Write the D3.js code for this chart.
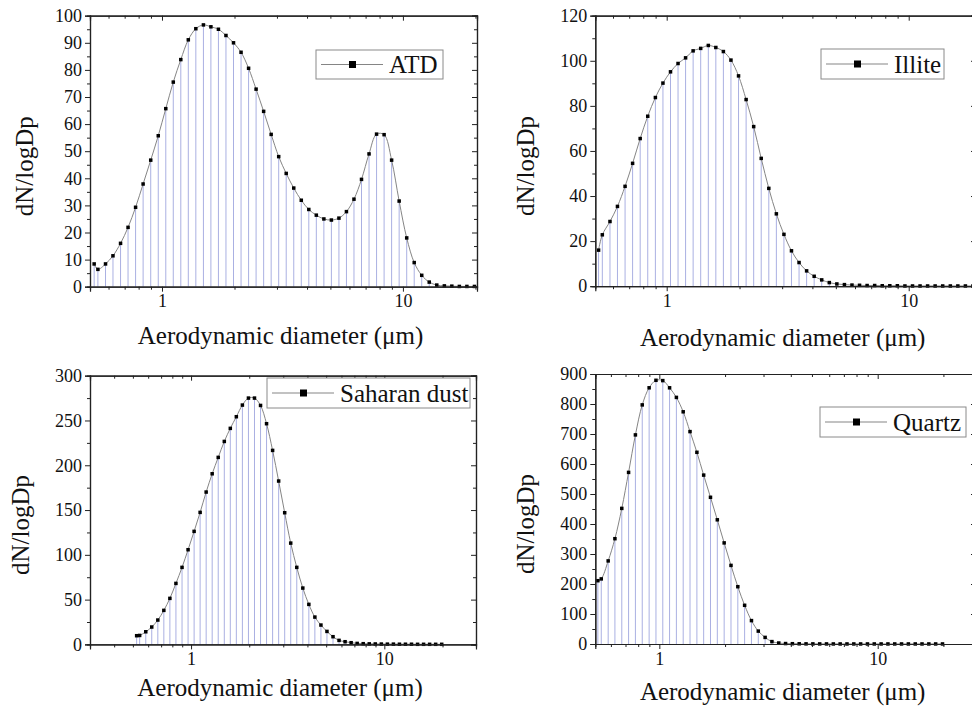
<!DOCTYPE html>
<html>
<head>
<meta charset="utf-8">
<script src="https://cdn.jsdelivr.net/npm/d3@7"></script>
<style>
  body { margin: 0; background: #fff; }
  svg text { font-family: "Liberation Serif", "Times New Roman", serif; fill: #111; }
</style>
</head>
<body>
<script>
"use strict";
(function(){
  // APS channel midpoints (um)
  const diameters = [0.523, 0.542, 0.583, 0.626, 0.673, 0.723, 0.777, 0.835, 0.898, 0.965,
    1.037, 1.114, 1.197, 1.286, 1.382, 1.486, 1.596, 1.715, 1.843, 1.981,
    2.129, 2.288, 2.458, 2.642, 2.839, 3.051, 3.278, 3.523, 3.786, 4.068,
    4.371, 4.698, 5.048, 5.425, 5.829, 6.264, 6.732, 7.234, 7.774, 8.354,
    8.977, 9.647, 10.37, 11.14, 11.97, 12.86, 13.82, 14.86, 15.96, 17.15,
    18.43, 19.81];

  const atdValues = [8.4, 6.4, 8.4, 11.4, 16, 21.9, 29.3, 37.9, 46.7, 55.7,
    65.7, 75.5, 83.8, 91.1, 95.2, 96.6, 95.9, 95, 92.7, 90,
    86.5, 80.6, 72.9, 64.7, 56.2, 48, 41.8, 36.4, 31.9, 28.5,
    26.4, 25, 24.6, 25.3, 27.7, 32.3, 39.6, 49, 56.3, 56.1,
    46.7, 31.6, 18, 8.9, 4.2, 1.7, 0.6, 0.3, 0.2, 0.1,
    0.1, 0.1];

  const illiteValues = [16, 22.8, 28.7, 35.4, 44.3, 54.5, 65.5, 75.4, 83.7, 90.1,
    95.1, 98.8, 101.3, 104.4, 105.5, 106.8, 105.9, 104.1, 100.3, 93.3,
    82.8, 70.8, 56.7, 43.4, 32.1, 23, 15.7, 10.5, 6.8, 4.4,
    2.8, 1.6, 1.0, 0.7, 0.5, 0.4, 0.3, 0.3, 0.2, 0.2,
    0.2, 0.1, 0.1, 0.1, 0.1, 0.1, 0.1, 0.1, 0.1, 0.1,
    0.1, 0.1];

  const saharanValues = [9.7, 10, 14.1, 19.4, 27.2, 38, 51.4, 68.1, 86, 105.7,
    126.2, 147.4, 170.1, 190.5, 208.8, 226.6, 241.2, 254.2, 267.2, 275,
    275, 266.8, 246.4, 216.6, 182.4, 147, 113.1, 86, 62.9, 44.7,
    30.5, 21.6, 14.5, 8.6, 4.5, 3, 1.9, 1.1, 0.8, 0.6,
    0.5, 0.4, 0.3, 0.3, 0.2, 0.2, 0.2, 0.1, 0.1, 0.1,
    0.1, 0.1];

  const quartzValues = [211, 217, 277, 351, 452, 572, 697, 797, 854, 879,
    878, 854, 822, 774, 708, 639, 563, 489, 414, 337,
    262, 191, 129, 78, 43, 22, 8, 3.3, 1.5, 1,
    0.7, 0.5, 0.4, 0.3, 0.3, 0.2, 0.2, 0.2, 0.2, 0.2,
    0.2, 0.2, 0.2, 0.2, 0.2, 0.2, 0.2, 0.2, 0.2, 0.2,
    0.2, 0.2];

  const atdTicks = [0, 10, 20, 30, 40, 50, 60, 70, 80, 90, 100];
  const illiteTicks = [0, 20, 40, 60, 80, 100, 120];
  const saharanTicks = [0, 50, 100, 150, 200, 250, 300];
  const quartzTicks = [0, 100, 200, 300, 400, 500, 600, 700, 800, 900];

  const xTickLabels = [1, 10];
  const xMinorTicks = [0.3, 0.4, 0.5, 0.6, 0.7, 0.8, 0.9, 2, 3, 4, 5, 6, 7, 8, 9, 20, 30];

  const xTitle = "Aerodynamic diameter (\u03bcm)";
  const yTitle = "dN/logDp";

  const panels = [
    { name: "ATD", values: atdValues, ticks: atdTicks, minor: 5,
      left: 90, right: 477, top: 15.7, bottom: 286.7, xDomain: [0.5026, 20.3],
      titleY: 344, yTitleX: 33, legend: { x: 316, y: 50, w: 127, h: 29 } },
    { name: "Illite", values: illiteValues, ticks: illiteTicks, minor: 10,
      left: 595.3, right: 976, top: 15.7, bottom: 286.2, xDomain: [0.507, 18.97],
      titleY: 346, yTitleX: 534, legend: { x: 821, y: 49, w: 123, h: 30 } },
    { name: "Saharan dust", values: saharanValues, ticks: saharanTicks, minor: 25,
      left: 90, right: 476, top: 375.7, bottom: 644.4, xDomain: [0.300, 29.8],
      titleY: 696, yTitleX: 29, legend: { x: 267, y: 378, w: 203, h: 30 } },
    { name: "Quartz", values: quartzValues, ticks: quartzTicks, minor: 50,
      left: 595.3, right: 976, top: 374, bottom: 644, xDomain: [0.509, 28.2],
      titleY: 700, yTitleX: 534, legend: { x: 820, y: 407, w: 146, h: 30 } }
  ];

  const svg = d3.select("body").append("svg")
    .attr("width", 972)
    .attr("height", 707);

  panels.forEach(drawPanel);

  function drawPanel(p) {
    const g = svg.append("g");
    const yMax = d3.max(p.ticks);
    const minorY = d3.range(0, yMax + 0.001, p.minor).filter(v => p.ticks.indexOf(v) < 0);

    const x = d3.scaleLog().domain(p.xDomain).range([p.left, p.right]);
    const y = d3.scaleLinear().domain([0, yMax]).range([p.bottom, p.top]);

    const data = diameters.map((d, i) => ({ d: d, v: p.values[i] }));

    // drop lines
    g.selectAll(".drop")
      .data(data)
      .enter()
      .append("line")
        .attr("x1", d => x(d.d)).attr("x2", d => x(d.d))
        .attr("y1", d => y(d.v)).attr("y2", y(0))
        .attr("stroke", "#aab0e2")
        .attr("stroke-width", 1);

    // spline through points
    const line = d3.line()
      .x(d => x(d.d))
      .y(d => y(d.v))
      .curve(d3.curveCatmullRom.alpha(0.5));
    g.append("path")
      .datum(data)
      .attr("d", line)
      .attr("fill", "none")
      .attr("stroke", "#858585")
      .attr("stroke-width", 1);

    g.selectAll(".pt")
      .data(data)
      .enter()
      .append("rect")
        .attr("x", d => x(d.d) - 1.75)
        .attr("y", d => y(d.v) - 1.75)
        .attr("width", 3.5)
        .attr("height", 3.5)
        .attr("fill", "#000");

    // axes: bottom / left outward, top / right inward
    const xMinor = xMinorTicks.filter(v => v > p.xDomain[0] && v < p.xDomain[1]);
    const bottom = g.append("g").attr("transform", "translate(0," + p.bottom + ")");
    bottom.call(d3.axisBottom(x).tickValues(xTickLabels).tickSize(5).tickFormat(d3.format("d")));
    bottom.append("g").call(d3.axisBottom(x).tickValues(xMinor).tickSize(3).tickFormat(""));

    const top = g.append("g").attr("transform", "translate(0," + p.top + ")");
    top.call(d3.axisTop(x).tickValues(xTickLabels).tickSize(-5).tickFormat(""));
    top.append("g").call(d3.axisTop(x).tickValues(xMinor).tickSize(-3).tickFormat(""));

    const leftAx = g.append("g").attr("transform", "translate(" + p.left + ",0)");
    leftAx.call(d3.axisLeft(y).tickValues(p.ticks).tickSize(5).tickPadding(3));
    leftAx.append("g").call(d3.axisLeft(y).tickValues(minorY).tickSize(3).tickFormat(""));

    const rightAx = g.append("g").attr("transform", "translate(" + p.right + ",0)");
    rightAx.call(d3.axisRight(y).tickValues(p.ticks).tickSize(-5).tickFormat(""));
    rightAx.append("g").call(d3.axisRight(y).tickValues(minorY).tickSize(-3).tickFormat(""));

    g.selectAll(".domain").attr("stroke", "#222").attr("stroke-width", 1.2);
    g.selectAll(".tick line").attr("stroke", "#222").attr("stroke-width", 1);
    g.selectAll(".tick text")
      .attr("font-family", "Liberation Serif, Times New Roman, serif")
      .attr("font-size", 18)
      .attr("fill", "#111");

    // axis titles
    g.append("text")
      .attr("x", (p.left + Math.min(p.right, 986)) / 2 - 3)
      .attr("y", p.titleY)
      .attr("text-anchor", "middle")
      .attr("font-size", 25)
      .text(xTitle);

    g.append("text")
      .attr("transform", "translate(" + p.yTitleX + "," + ((p.top + p.bottom) / 2 + 15) + ") rotate(-90)")
      .attr("text-anchor", "middle")
      .attr("font-size", 25)
      .text(yTitle);

    // legend
    const lg = g.append("g").attr("transform", "translate(" + p.legend.x + "," + p.legend.y + ")");
    lg.append("rect")
      .attr("width", p.legend.w).attr("height", p.legend.h)
      .attr("fill", "#fff").attr("stroke", "#8a8a8a").attr("stroke-width", 1);
    lg.append("line")
      .attr("x1", 5).attr("x2", 67)
      .attr("y1", p.legend.h / 2).attr("y2", p.legend.h / 2)
      .attr("stroke", "#858585").attr("stroke-width", 1);
    lg.append("rect")
      .attr("x", 33).attr("y", p.legend.h / 2 - 3.5)
      .attr("width", 7).attr("height", 7)
      .attr("fill", "#000");
    lg.append("text")
      .attr("x", 73)
      .attr("y", p.legend.h / 2 + 8.5)
      .attr("font-size", 25)
      .text(p.name);
  }
})();
</script>
</body>
</html>
